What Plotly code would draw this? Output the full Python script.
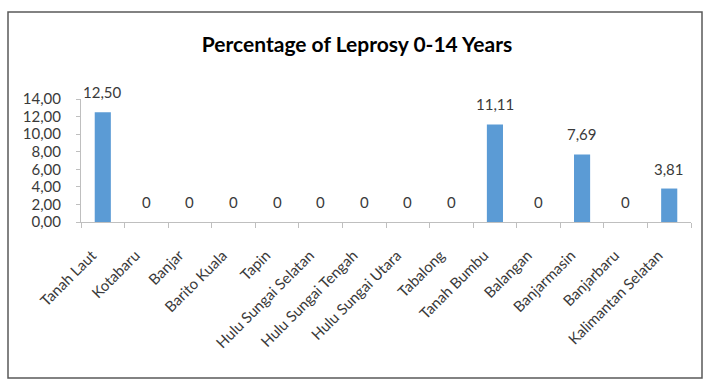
import plotly.graph_objects as go

categories = ["Tanah Laut", "Kotabaru", "Banjar", "Barito Kuala", "Tapin",
              "Hulu Sungai Selatan", "Hulu Sungai Tengah", "Hulu Sungai Utara",
              "Tabalong", "Tanah Bumbu", "Balangan", "Banjarmasin", "Banjarbaru",
              "Kalimantan Selatan"]
values = [12.50, 0, 0, 0, 0, 0, 0, 0, 0, 11.11, 0, 7.69, 0, 3.81]
y_ticks = [0, 2, 4, 6, 8, 10, 12, 14]

def fmt(v):
    return "0" if v == 0 else f"{v:.2f}".replace(".", ",")

W, H = 707, 381
L, R, T, B = 81, 16, 99, 159
FONT = "Lato, 'Liberation Sans', sans-serif"
TXT = "#3a3a3a"

fig = go.Figure()
fig.add_trace(go.Bar(x=categories, y=values, marker_color="#5B9BD5",
                     marker_line_width=0, hoverinfo="skip"))

for c, v in zip(categories, values):
    fig.add_annotation(x=c, y=v, text=fmt(v), showarrow=False,
                       yanchor="bottom", yshift=9,
                       font=dict(family=FONT, size=15, color=TXT))

pw = W - L - R
ph = H - T - B
def px_x(p):
    return (p - L) / pw
def px_y(p):
    return (H - B - p) / ph

fig.add_shape(type="rect", xref="paper", yref="paper",
              x0=px_x(8), x1=px_x(702), y0=px_y(378), y1=px_y(12),
              line=dict(color="#595959", width=1.5), layer="below")

fig.update_layout(
    width=W, height=H,
    margin=dict(l=L, r=R, t=T, b=B),
    paper_bgcolor="white", plot_bgcolor="white",
    separators=",.",
    bargap=0.63,
    showlegend=False,
    title=dict(text="<b>Percentage of Leprosy 0-14 Years</b>",
               x=0.505, xanchor="center", xref="container",
               y=1 - 45 / H, yanchor="middle", yref="container",
               font=dict(family=FONT, size=21, color="#000000")),
    font=dict(family=FONT, color=TXT),
)
fig.update_xaxes(
    showline=True, linecolor="#BFBFBF", linewidth=1,
    ticks="outside", tickson="boundaries", ticklen=5, tickcolor="#BFBFBF",
    tickangle=-45, tickfont=dict(family=FONT, size=15, color=TXT),
    ticksuffix="\u00a0\u00a0\u00a0\u00a0",
    ticklabelstandoff=7,
    showgrid=False, fixedrange=True,
)
fig.update_yaxes(
    range=[0, 14], tickvals=y_ticks,
    ticktext=[f"{t:.2f}".replace(".", ",") for t in y_ticks],
    showline=True, linecolor="#BFBFBF", linewidth=1,
    ticks="outside", ticklen=4, tickcolor="#BFBFBF",
    ticklabelstandoff=12,
    tickfont=dict(family=FONT, size=15, color=TXT),
    showgrid=False, zeroline=False, fixedrange=True,
)

fig.write_html("out.html")
